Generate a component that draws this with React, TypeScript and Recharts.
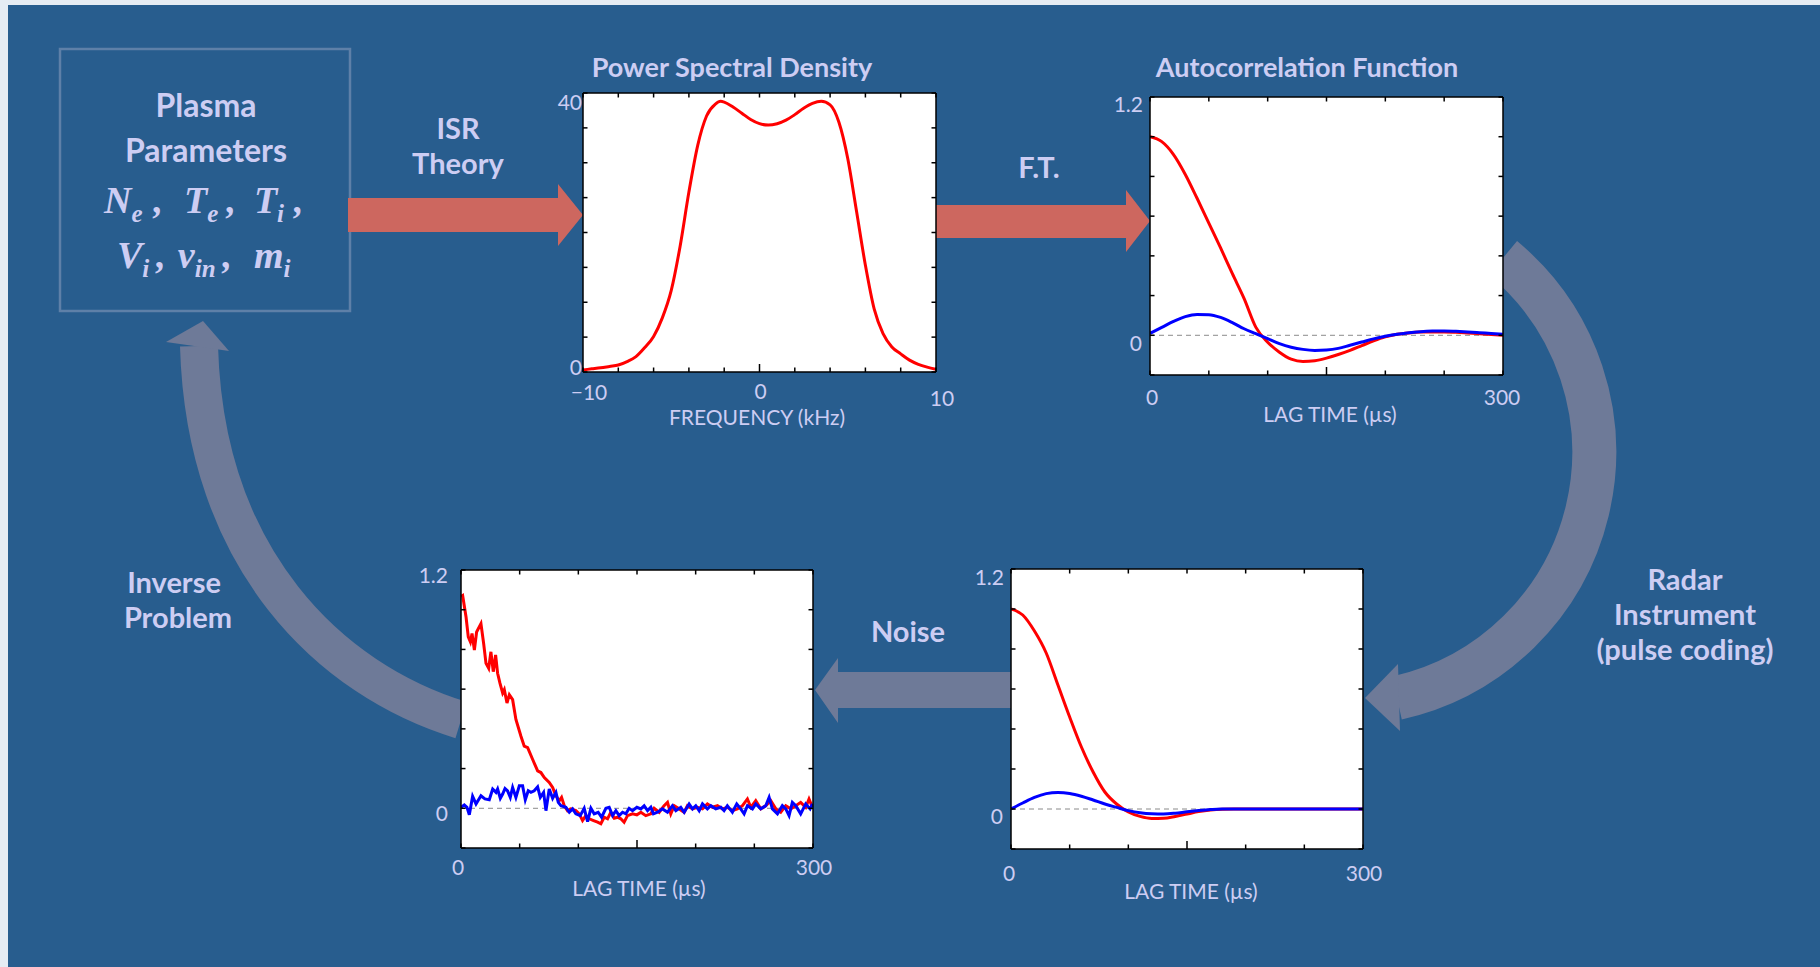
import { LineChart, Line, XAxis, YAxis, ReferenceLine } from 'recharts';

// ---- data ----
const psdFreq = [-10, -9.5, -9, -8.5, -8, -7.5, -7, -6.5, -6, -5.5, -5, -4.5, -4, -3.5, -3, -2.5, -2.2, -2, -1.5, -1, -0.5, 0, 0.5, 1, 1.5, 2, 2.5, 3, 3.5, 4, 4.5, 5, 5.5, 6, 6.5, 7, 7.5, 8, 8.5, 9, 9.5, 10];
const psdPower = [0.3, 0.45, 0.6, 0.8, 1.0, 1.5, 2.2, 3.5, 5.1, 7.8, 11.7, 18, 25.8, 32.5, 36.7, 38.4, 38.8, 38.7, 38, 37.1, 36.2, 35.6, 35.4, 35.6, 36.1, 36.9, 37.8, 38.5, 38.8, 38.3, 35.8, 30.6, 23, 15.3, 9, 5.5, 3.6, 2.6, 1.7, 1.1, 0.7, 0.4];

const acfLag = [0, 10, 20, 30, 40, 50, 60, 70, 80, 90, 100, 110, 120, 130, 140, 150, 160, 170, 180, 190, 200, 210, 220, 230, 240, 250, 260, 270, 280, 290, 300];
const acfReal = [1.0, 0.975, 0.91, 0.81, 0.69, 0.565, 0.44, 0.31, 0.185, 0.04, -0.035, -0.085, -0.12, -0.132, -0.128, -0.115, -0.097, -0.076, -0.052, -0.028, -0.008, 0.005, 0.012, 0.016, 0.017, 0.017, 0.015, 0.012, 0.008, 0.004, 0.0];
const acfImag = [0.01, 0.04, 0.07, 0.094, 0.105, 0.104, 0.09, 0.064, 0.033, 0.008, -0.017, -0.042, -0.06, -0.071, -0.076, -0.074, -0.066, -0.05, -0.034, -0.018, -0.005, 0.005, 0.013, 0.018, 0.021, 0.022, 0.02, 0.017, 0.013, 0.009, 0.005];

const radarReal = [1.0, 0.97, 0.89, 0.78, 0.62, 0.46, 0.31, 0.185, 0.085, 0.025, -0.015, -0.037, -0.047, -0.046, -0.037, -0.025, -0.013, -0.005, -0.001, 0, 0, 0, 0, 0, 0, 0, 0, 0, 0, 0, 0];
const radarImag = [0, 0.03, 0.058, 0.077, 0.083, 0.078, 0.064, 0.045, 0.025, 0.008, -0.008, -0.019, -0.024, -0.025, -0.021, -0.014, -0.008, -0.003, 0, 0, 0, 0, 0, 0, 0, 0, 0, 0, 0, 0, 0];

// noisy estimates: [lag, value]
const noisyReal = [
  [0, 1.067], [1.4, 1.072], [4.3, 0.963], [6.2, 0.863], [8, 0.838], [9.4, 0.88], [11.4, 0.797], [13.3, 0.888], [17, 0.93], [19.3, 0.83],
  [21.3, 0.73], [23.6, 0.705], [25.5, 0.788], [27.5, 0.688], [29.5, 0.772], [31.2, 0.68], [33.2, 0.63], [35.5, 0.58], [36.9, 0.597], [39.2, 0.53],
  [41.2, 0.572], [44, 0.547], [46.8, 0.447], [51.1, 0.363], [53.9, 0.313], [56.8, 0.305], [61, 0.247], [65.3, 0.188], [68.1, 0.18], [71, 0.155],
  [75.2, 0.13], [78.1, 0.105], [80.9, 0.063], [83.7, 0.038], [85.7, 0.055], [88, 0.013], [90.8, -0.012], [93.7, -0.003], [97.9, -0.012], [100.8, -0.028],
  [103.6, -0.062], [106.4, -0.037], [109.3, -0.053], [113, -0.062], [116.4, -0.07], [119.2, -0.078], [122, -0.045], [124.9, -0.053], [127.7, -0.02], [130.6, -0.05],
  [133.4, -0.045], [136.2, -0.053], [139, -0.07], [141.9, -0.037], [146.2, -0.028], [149.9, -0.033], [153.3, -0.02], [157.5, -0.037], [161.8, -0.028], [164.6, 0],
  [168.9, -0.02], [173.1, 0.013], [176, 0.03], [178.8, -0.028], [181.7, 0.013], [185.9, -0.003], [190.2, -0.02], [193, 0.013], [197.3, -0.003], [201.5, 0.005],
  [205.8, -0.003], [210, 0.022], [214.3, 0.005], [218.6, 0.013], [222.8, -0.003], [227, 0.005], [231.3, -0.012], [235.6, -0.003], [239.9, 0.013], [244.1, 0.047],
  [247, 0.005], [251.2, 0.038], [255.5, -0.003], [259.7, 0.013], [264, 0.038], [268.3, -0.003], [272.5, -0.02], [276.8, 0.013], [281, -0.003], [285.3, 0.013],
  [289.5, 0.03], [293.8, 0.005], [296.6, 0.047], [299.5, 0.005],
];
const noisyImag = [
  [0, 0.005], [2.8, 0.017], [5.1, 0.005], [7.1, -0.033], [9.9, 0.06], [12.8, 0.022], [17, 0.063], [20.4, 0.047], [24.1, 0.043], [27, 0.097],
  [29.8, 0.08], [31.2, 0.097], [33.5, 0.05], [35.5, 0.072], [37.5, 0.1], [39.7, 0.088], [42, 0.055], [44, 0.105], [46.8, 0.055], [49.7, 0.113],
  [52.5, 0.113], [54.8, 0.043], [57.3, 0.088], [59.6, 0.08], [62.4, 0.088], [65.3, 0.108], [67.6, 0.055], [70.4, 0.08], [72.4, -0.012], [75.2, 0.097],
  [78.1, 0.05], [80.9, 0.08], [82.9, 0.03], [85.2, 0.013], [89.4, 0.005], [92.3, -0.02], [95.1, -0.003], [97.9, -0.028], [101.6, -0.037], [105, 0],
  [107.9, -0.067], [110.7, 0], [113.5, -0.028], [116.9, -0.02], [119.8, -0.045], [123.5, 0], [126.3, 0.005], [129.2, -0.037], [132, -0.012], [134.8, -0.037],
  [137.7, -0.02], [140.5, -0.028], [143.3, 0], [146.2, -0.012], [149.9, 0.005], [153.3, -0.003], [156.1, 0.013], [159, -0.012], [161.8, 0.005], [164, -0.028],
  [167.5, -0.02], [171.7, -0.003], [176, -0.02], [180.2, 0.013], [183.1, -0.012], [187.3, 0.005], [190.2, -0.02], [194.4, 0.022], [197.3, -0.003], [200.1, 0.013],
  [203, -0.012], [205.8, 0.022], [210, -0.003], [212.9, 0.013], [217.1, -0.003], [221.4, 0.005], [224.2, -0.012], [227, 0.013], [231.3, -0.02], [235, 0.022],
  [238.4, -0.003], [241.3, -0.028], [244.1, 0.013], [248.4, -0.003], [251.2, 0.022], [255.5, -0.003], [259.7, 0.013], [262.6, 0.055], [265.4, -0.003], [269.7, -0.028],
  [273.9, 0.013], [276.8, -0.003], [279.6, -0.037], [282.4, 0.03], [285.3, 0.013], [289.5, -0.028], [293.8, 0.022], [297.5, -0.003], [299.5, 0.022],
];

const freqTicks = [-10, -8, -6, -4, -2, 0, 2, 4, 6, 8, 10];
const powerTicks = [0, 5, 10, 15, 20, 25, 30, 35, 40];
const lagTicks = [0, 50, 100, 150, 200, 250, 300];
const corrTicks = [-0.2, 0, 0.2, 0.4, 0.6, 0.8, 1, 1.2];

const BG = '#285D8E';
const TXT = '#CDCDF3';
const RED_ARROW = '#CD675F';
const GREY_ARROW = '#6E7A98';

const pairs = (xs: number[], ys: number[], kx: string, ky: string) => xs.map((x, i) => ({ [kx]: x, [ky]: ys[i] }));
const fromPairs = (p: number[][]) => p.map(([t, v]) => ({ t, v }));

type Lab = { v: number; text: string; dx: number; dy: number; anchor: 'start' | 'middle' | 'end' };

function makeTick(side: string, labels: Lab[], major: number[] = []) {
  return (props: any) => {
    const { x, y, payload } = props;
    const v = payload.value;
    const len = major.includes(v) ? 8 : 4.5;
    let line;
    if (side === 'bottom') line = <line x1={x} x2={x} y1={y} y2={y - len} />;
    else if (side === 'top') line = <line x1={x} x2={x} y1={y} y2={y + len} />;
    else if (side === 'left') line = <line x1={x} x2={x + len} y1={y} y2={y} />;
    else line = <line x1={x} x2={x - len} y1={y} y2={y} />;
    const lab = labels.find((l) => Math.abs(l.v - v) < 1e-9);
    return (
      <g>
        <g stroke="#000" strokeWidth={1.5}>{line}</g>
        {lab && (
          <text x={x + lab.dx} y={y + lab.dy} textAnchor={lab.anchor} dominantBaseline="central"
            fill={TXT} fontSize={21} fontFamily="Lato">{lab.text}</text>
        )}
      </g>
    );
  };
}

type Series = { data: any[]; color: string; type: 'monotone' | 'linear' };

const M = 60;
const AX = 20;

function Panel(p: {
  L: number; T: number; W: number; H: number;
  xKey: string; yKey: string;
  xDomain: number[]; xTicks: number[]; yDomain: number[]; yTicks: number[];
  xLabels: Lab[]; yLabels: Lab[]; xMajor: number[];
  series: Series[]; zero?: boolean;
}) {
  const axisLine = { stroke: '#000', strokeWidth: 1.5 };
  const common = { interval: 0 as const, allowDataOverflow: true, tickSize: 0, tickMargin: 0, tickLine: false, axisLine };
  return (
    <div style={{ position: 'absolute', left: p.L - M, top: p.T - M, width: p.W + 2 * M, height: p.H + 2 * M }}>
      <div style={{ position: 'absolute', left: M, top: M, width: p.W, height: p.H, background: '#fff' }} />
      <div style={{ position: 'absolute', left: 0, top: 0 }}>
        <LineChart width={p.W + 2 * M} height={p.H + 2 * M}
          margin={{ top: M - AX, right: M - AX, bottom: M - AX, left: M - AX }}>
          <XAxis xAxisId="b" dataKey={p.xKey} type="number" domain={p.xDomain} ticks={p.xTicks} height={AX}
            {...common} tick={makeTick('bottom', p.xLabels, p.xMajor)} />
          <XAxis xAxisId="t" orientation="top" dataKey={p.xKey} type="number" domain={p.xDomain} ticks={p.xTicks} height={AX}
            {...common} tick={makeTick('top', [])} />
          <YAxis yAxisId="l" type="number" domain={p.yDomain} ticks={p.yTicks} width={AX}
            {...common} tick={makeTick('left', p.yLabels)} />
          <YAxis yAxisId="r" orientation="right" type="number" domain={p.yDomain} ticks={p.yTicks} width={AX}
            {...common} tick={makeTick('right', [])} />
          {p.zero && (
            <ReferenceLine xAxisId="b" yAxisId="l" y={0} stroke="#8a8a8a" strokeWidth={1} strokeDasharray="5 4" />
          )}
          {p.series.map((s, i) => (
            <Line key={i} xAxisId="b" yAxisId="l" data={s.data} dataKey={p.yKey} type={s.type}
              stroke={s.color} strokeWidth={3} dot={false} activeDot={false} isAnimationActive={false} />
          ))}
        </LineChart>
      </div>
    </div>
  );
}

function Label({ x, y, size = 29, bold = true, children }: any) {
  return (
    <text x={x} y={y} textAnchor="middle" dominantBaseline="central" fill={TXT}
      fontFamily="Lato" fontWeight={bold ? 700 : 400} fontSize={size}>{children}</text>
  );
}

export default function App() {
  const psd = pairs(psdFreq, psdPower, 'f', 'p');
  const acfR = pairs(acfLag, acfReal, 't', 'v');
  const acfI = pairs(acfLag, acfImag, 't', 'v');
  const radR = pairs(acfLag, radarReal, 't', 'v');
  const radI = pairs(acfLag, radarImag, 't', 'v');
  const noiR = fromPairs(noisyReal);
  const noiI = fromPairs(noisyImag);

  const lagX = (dy: number, d0: number, d3: number): Lab[] => [
    { v: 0, text: '0', dx: d0, dy, anchor: 'middle' },
    { v: 300, text: '300', dx: d3, dy, anchor: 'middle' },
  ];
  const corrY = (dx1: number, dy1: number, dx0: number, dy0: number): Lab[] => [
    { v: 1.2, text: '1.2', dx: dx1, dy: dy1, anchor: 'end' },
    { v: 0, text: '0', dx: dx0, dy: dy0, anchor: 'end' },
  ];

  const sub = { fontSize: 25 };
  const math = { fill: TXT, fontFamily: 'Liberation Serif', fontStyle: 'italic', fontWeight: 700, fontSize: 38 } as const;
  return (
    <div style={{ position: 'absolute', left: 0, top: 0, width: 1820, height: 967, background: '#E6ECF3', overflow: 'hidden' }}>
      <div style={{ position: 'absolute', left: 8, top: 5, width: 1812, height: 962, background: BG }} />
      <svg width={1820} height={967} style={{ position: 'absolute', left: 0, top: 0 }}>
        <rect x={60} y={49} width={290} height={262} fill="none" stroke="#5E80A8" strokeWidth={2.5} />
        {/* red arrows */}
        <polygon points="348,198 558,198 558,184 583,215 558,246 558,232 348,232" fill={RED_ARROW} />
        <polygon points="936,205 1126,205 1126,190 1150,221 1126,252 1126,238 936,238" fill={RED_ARROW} />
        {/* grey arrows */}
        <path d="M 1503 258 A 252 252 0 0 1 1397 698" fill="none" stroke={GREY_ARROW} strokeWidth={44} />
        <polygon points="1398,664 1365,698 1400,731" fill={GREY_ARROW} />
        <polygon points="1011,672 838,672 838,658 815,690 838,723 838,708 1011,708" fill={GREY_ARROW} />
        <path d="M 461 720 C 330 680, 205 560, 199 346" fill="none" stroke={GREY_ARROW} strokeWidth={38} />
        <polygon points="166,342 203,321 229,351" fill={GREY_ARROW} />

        <Label x={206} y={104} size={32}>Plasma</Label>
        <Label x={206} y={149} size={32}>Parameters</Label>
        <text x={104} y={213} {...math}>
          N<tspan style={sub} dy={9}>e</tspan>
          <tspan dx={11} dy={-9}>,</tspan><tspan dx={21}>T</tspan><tspan style={sub} dy={9}>e</tspan>
          <tspan dx={8} dy={-9}>,</tspan><tspan dx={18}>T</tspan><tspan style={sub} dy={9}>i</tspan>
          <tspan dx={10} dy={-9}>,</tspan>
        </text>
        <text x={117} y={268} {...math}>
          V<tspan style={sub} dy={9}>i</tspan>
          <tspan dx={7} dy={-9}>,</tspan><tspan dx={12}>ν</tspan><tspan style={sub} dy={9}>in</tspan>
          <tspan dx={7} dy={-9}>,</tspan><tspan dx={22}>m</tspan><tspan style={sub} dy={9}>i</tspan>
        </text>
        <Label x={458} y={127}>ISR</Label>
        <Label x={458} y={162}>Theory</Label>
        <Label x={732} y={66} size={27}>Power Spectral Density</Label>
        <Label x={1307} y={66} size={27}>Autocorrelation Function</Label>
        <Label x={1039} y={166}>F.T.</Label>
        <Label x={908} y={630}>Noise</Label>
        <Label x={174} y={581}>Inverse</Label>
        <Label x={178} y={616}>Problem</Label>
        <Label x={1685} y={578}>Radar</Label>
        <Label x={1685} y={613}>Instrument</Label>
        <Label x={1685} y={648}>(pulse coding)</Label>

        <Label x={757} y={416} size={21} bold={false}>FREQUENCY (kHz)</Label>
        <Label x={1330} y={413} size={21} bold={false}>LAG TIME (µs)</Label>
        <Label x={1191} y={890} size={21} bold={false}>LAG TIME (µs)</Label>
        <Label x={639} y={887} size={21} bold={false}>LAG TIME (µs)</Label>
      </svg>

      <Panel L={583} T={93} W={353} H={279} xKey="f" yKey="p"
        xDomain={[-10, 10]} xTicks={freqTicks} yDomain={[0, 40]} yTicks={powerTicks}
        xLabels={[
          { v: -10, text: '\u221210', dx: 6, dy: 19, anchor: 'middle' },
          { v: 0, text: '0', dx: 1, dy: 18, anchor: 'middle' },
          { v: 10, text: '10', dx: 6, dy: 25, anchor: 'middle' },
        ]}
        yLabels={[
          { v: 40, text: '40', dx: -1, dy: 8, anchor: 'end' },
          { v: 0, text: '0', dx: -1, dy: -6, anchor: 'end' },
        ]}
        xMajor={[0]}
        series={[{ data: psd, color: '#ff0000', type: 'monotone' }]} />

      <Panel L={1150} T={97} W={353} H={278} xKey="t" yKey="v"
        xDomain={[0, 300]} xTicks={lagTicks} yDomain={[-0.2, 1.2]} yTicks={corrTicks}
        xLabels={lagX(21, 2, -1)} yLabels={corrY(-7, 6, -8, 7)} xMajor={[150]} zero
        series={[{ data: acfR, color: '#ff0000', type: 'monotone' }, { data: acfI, color: '#0000ff', type: 'monotone' }]} />

      <Panel L={1011} T={569} W={352} H={280} xKey="t" yKey="v"
        xDomain={[0, 300]} xTicks={lagTicks} yDomain={[-0.2, 1.2]} yTicks={corrTicks}
        xLabels={lagX(23, -2, 1)} yLabels={corrY(-7, 7, -8, 6)} xMajor={[150]} zero
        series={[{ data: radR, color: '#ff0000', type: 'monotone' }, { data: radI, color: '#0000ff', type: 'monotone' }]} />

      <Panel L={461} T={570} W={352} H={278} xKey="t" yKey="v"
        xDomain={[0, 300]} xTicks={lagTicks} yDomain={[-0.2, 1.2]} yTicks={corrTicks}
        xLabels={lagX(18, -3, 1)} yLabels={corrY(-13, 4, -13, 4)} xMajor={[150]} zero
        series={[{ data: noiR, color: '#ff0000', type: 'linear' }, { data: noiI, color: '#0000ff', type: 'linear' }]} />
    </div>
  );
}
